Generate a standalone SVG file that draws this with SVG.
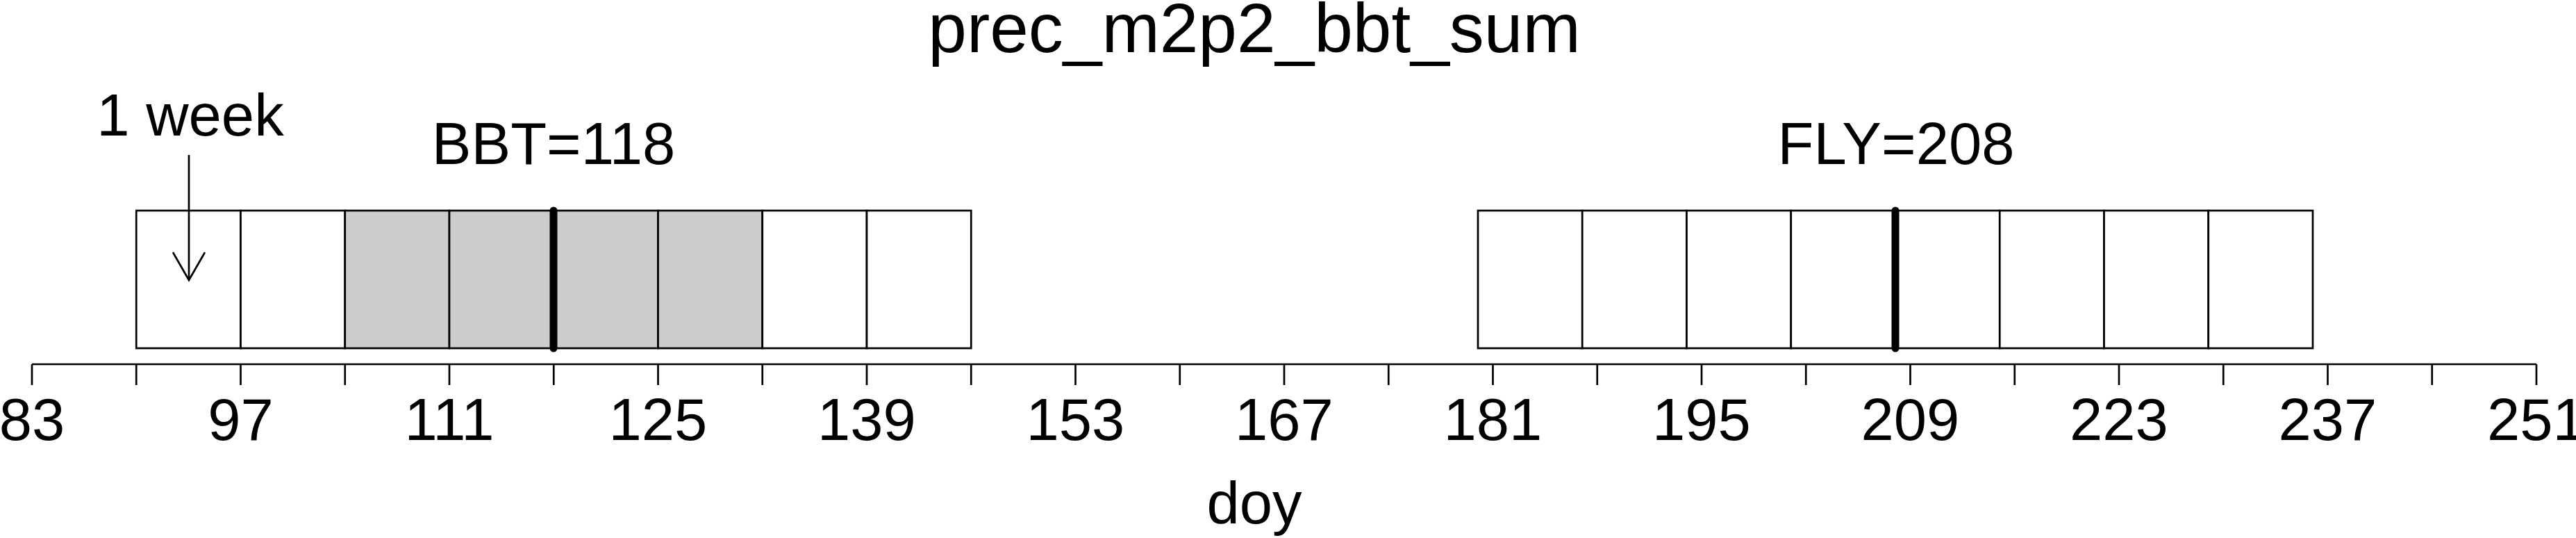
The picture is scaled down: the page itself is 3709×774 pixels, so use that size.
<svg xmlns="http://www.w3.org/2000/svg" width="3709" height="774" viewBox="0 0 3709 774">
<style>
text{font-family:"Liberation Sans",Arial,sans-serif;fill:#000;text-anchor:middle}
.lbl{font-size:85px}
.title{font-size:100px}
.cell{fill:#fff;stroke:#000;stroke-width:2.7}
.cell.sh{fill:#cccccc}
.ax{stroke:#000;stroke-width:2.7;fill:none}
.mark{stroke:#000;stroke-width:11;stroke-linecap:round}
.arr{stroke:#000;stroke-width:2.7;fill:none}
</style>
<rect width="3709" height="774" fill="#fff"/>
<g id="title"><text class="title" x="1806" y="75">prec_m2p2_bbt_sum</text></g>
<g id="bbt-box">
<rect class="cell" x="196.25" y="303" width="150.25" height="198"/>
<rect class="cell" x="346.5" y="303" width="150.25" height="198"/>
<rect class="cell sh" x="496.75" y="303" width="150.25" height="198"/>
<rect class="cell sh" x="647" y="303" width="150.25" height="198"/>
<rect class="cell sh" x="797.25" y="303" width="150.25" height="198"/>
<rect class="cell sh" x="947.5" y="303" width="150.25" height="198"/>
<rect class="cell" x="1097.75" y="303" width="150.25" height="198"/>
<rect class="cell" x="1248" y="303" width="150.25" height="198"/>
<line class="mark" x1="797" y1="303" x2="797" y2="501"/>
</g>
<g id="bbt-label"><text class="lbl" x="797" y="236">BBT=118</text></g>
<g id="fly-box">
<rect class="cell" x="2128" y="303" width="150.25" height="198"/>
<rect class="cell" x="2278.25" y="303" width="150.25" height="198"/>
<rect class="cell" x="2428.5" y="303" width="150.25" height="198"/>
<rect class="cell" x="2578.75" y="303" width="150.25" height="198"/>
<rect class="cell" x="2729" y="303" width="150.25" height="198"/>
<rect class="cell" x="2879.25" y="303" width="150.25" height="198"/>
<rect class="cell" x="3029.5" y="303" width="150.25" height="198"/>
<rect class="cell" x="3179.75" y="303" width="150.25" height="198"/>
<line class="mark" x1="2729" y1="303" x2="2729" y2="501"/>
</g>
<g id="fly-label"><text class="lbl" x="2730" y="236">FLY=208</text></g>
<g id="week-label"><text class="lbl" x="274" y="195">1 week</text></g>
<g id="connectors">
<line class="arr" x1="272" y1="223" x2="272" y2="402"/>
<polyline class="arr" points="249,363 272,403 295,363"/>
</g>
<g id="axis">
<path class="ax" d="M46,524H3652"/>
<path class="ax" d="M46,524v30M196.25,524v30M346.5,524v30M496.75,524v30M647,524v30M797.25,524v30M947.5,524v30M1097.75,524v30M1248,524v30M1398.25,524v30M1548.5,524v30M1698.75,524v30M1849,524v30M1999.25,524v30M2149.5,524v30M2299.75,524v30M2450,524v30M2600.25,524v30M2750.5,524v30M2900.75,524v30M3051,524v30M3201.25,524v30M3351.5,524v30M3501.75,524v30M3652,524v30"/>
<g class="lbl">
<text class="lbl" x="46" y="633">83</text>
<text class="lbl" x="346.5" y="633">97</text>
<text class="lbl" x="647" y="633">111</text>
<text class="lbl" x="947.5" y="633">125</text>
<text class="lbl" x="1248" y="633">139</text>
<text class="lbl" x="1548.5" y="633">153</text>
<text class="lbl" x="1849" y="633">167</text>
<text class="lbl" x="2149.5" y="633">181</text>
<text class="lbl" x="2450" y="633">195</text>
<text class="lbl" x="2750.5" y="633">209</text>
<text class="lbl" x="3051" y="633">223</text>
<text class="lbl" x="3351.5" y="633">237</text>
<text class="lbl" x="3652" y="633">251</text>
</g>
</g>
<g id="axis-title"><text class="lbl" x="1806" y="753">doy</text></g>
</svg>
